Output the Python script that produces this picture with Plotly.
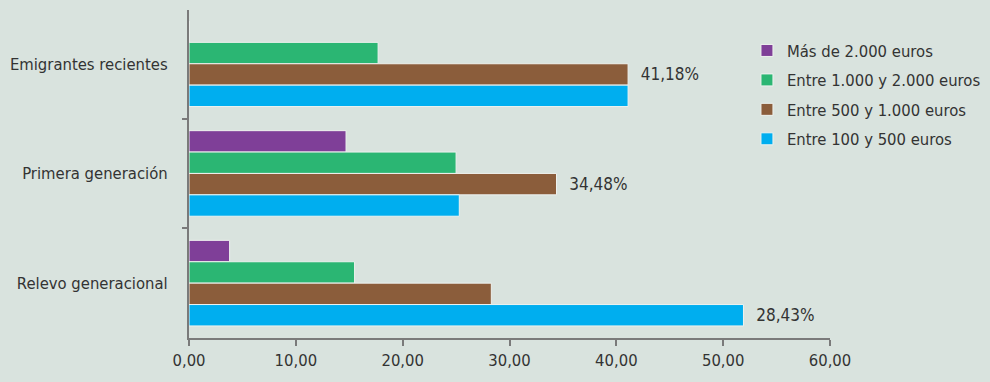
import plotly.graph_objects as go

categories = ["Emigrantes recientes", "Primera generación", "Relevo generacional"]
series_names = ["Más de 2.000 euros", "Entre 1.000 y 2.000 euros",
                "Entre 500 y 1.000 euros", "Entre 100 y 500 euros"]
mas_2000 = [0.0, 14.7, 3.8]
entre_1000_2000 = [17.7, 25.0, 15.5]
entre_500_1000 = [41.1, 34.4, 28.3]
entre_100_500 = [41.1, 25.3, 51.9]
labels_500_1000 = ["  41,18%", "  34,48%", ""]
labels_100_500 = ["", "", "  28,43%"]
x_tick_vals = [0, 10, 20, 30, 40, 50, 60]
x_tick_text = ["0,00", "10,00", "20,00", "30,00", "40,00", "50,00", "60,00"]

colors = ["#7f3f98", "#2bb673", "#8b5d3b", "#00aeef"]
values = [mas_2000, entre_1000_2000, entre_500_1000, entre_100_500]
texts = [None, None, labels_500_1000, labels_100_500]

FONT = "DejaVu Sans Condensed, Liberation Sans Narrow, sans-serif"
FS = 16.5
BG = "#d9e3de"

fig = go.Figure()
for i, (name, vals, col, txt) in enumerate(zip(series_names, values, colors, texts)):
    fig.add_trace(go.Bar(
        y=categories, x=vals, name=name, orientation="h", legendgroup=f"g{i}",
        marker=dict(color=col, line=dict(color="#eef2ef", width=1)),
        text=txt, textposition="outside" if txt else None,
        textfont=dict(family=FONT, size=FS + 0.5, color="#333333"),
        cliponaxis=False, hoverinfo="x+name",
    ))

fig.update_layout(
    width=990, height=382,
    margin=dict(l=189, r=160, t=10, b=44, autoexpand=False),
    paper_bgcolor=BG, plot_bgcolor=BG,
    barmode="group", bargap=0.22, bargroupgap=0.0,
    font=dict(family=FONT, size=FS, color="#333333"),
    showlegend=True,
    legend=dict(xref="container", yref="container", x=0.7545, y=0.913,
                xanchor="left", yanchor="top",
                bgcolor="rgba(0,0,0,0)", font=dict(family=FONT, size=FS, color="#333333"),
                traceorder="grouped", tracegroupgap=5),
    xaxis=dict(range=[0, 60], tickvals=x_tick_vals, ticktext=x_tick_text,
               showgrid=False, zeroline=False, showline=True, linecolor="#7a7a7a",
               linewidth=2, ticks="outside", ticklen=6, tickcolor="#7a7a7a", tickwidth=2,
               automargin=False,
               tickfont=dict(family=FONT, size=FS, color="#333333")),
    yaxis=dict(range=[2.5, -0.49], showgrid=False, zeroline=False, showline=True,
               linecolor="#7a7a7a", linewidth=2, ticks="outside", ticklen=5,
               tickcolor="#7a7a7a", tickwidth=2, tickson="boundaries",
               ticklabelstandoff=16, automargin=False,
               tickfont=dict(family=FONT, size=FS, color="#333333")),
)

fig.write_html("out.html")
